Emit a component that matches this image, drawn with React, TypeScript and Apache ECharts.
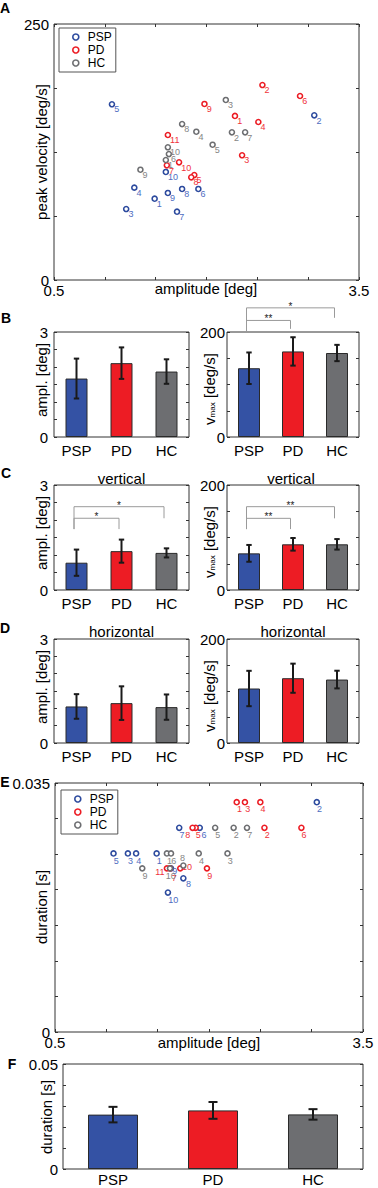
import React, { useEffect, useRef } from 'react';
import * as echarts from 'echarts';

const FONT = '"Liberation Sans", Arial, Helvetica, sans-serif';

const groups = ['PSP', 'PD', 'HC'];

// ---- Panel A: peak velocity [deg/s] vs amplitude [deg]
const aPspAmp = [1.49, 3.06, 1.21, 1.29, 1.07, 1.92, 1.71, 1.76, 1.62, 1.60];
const aPspVel = [79.4, 160.8, 69.3, 90.2, 171.6, 88.9, 66.7, 88.9, 85.0, 105.5];
const aPdAmp = [2.28, 2.55, 2.35, 2.51, 1.88, 2.92, 1.61, 1.85, 1.98, 1.73, 1.62];
const aPdVel = [160.2, 190.4, 121.8, 154.3, 102.5, 179.7, 112.0, 100.3, 171.9, 114.9, 141.6];
const aHcAmp = [1.60, 2.25, 2.19, 1.90, 2.06, 1.63, 2.38, 1.76, 1.35, 1.62];
const aHcVel = [117.2, 144.2, 175.8, 144.8, 132.1, 123.0, 144.2, 152.3, 107.7, 129.6];

// ---- Panel E: duration [s] vs amplitude [deg]
const ePspAmp = [1.49, 3.05, 1.21, 1.29, 1.07, 1.91, 1.71, 1.75, 1.63, 1.60];
const ePspDur = [0.0251, 0.0323, 0.0251, 0.0251, 0.0251, 0.0287, 0.0287, 0.0216, 0.0230, 0.0196];
const ePdAmp = [2.27, 2.54, 2.35, 2.50, 1.87, 2.90, 1.62, 1.84, 1.98, 1.72, 1.59];
const ePdDur = [0.0323, 0.0287, 0.0323, 0.0323, 0.0287, 0.0287, 0.0230, 0.0287, 0.0230, 0.0230, 0.0230];
const eHcAmp = [1.59, 2.24, 2.18, 1.90, 2.06, 1.63, 2.37, 1.75, 1.35, 1.62];
const eHcDur = [0.0251, 0.0287, 0.0251, 0.0251, 0.0287, 0.0251, 0.0287, 0.0234, 0.0230, 0.0230];

// ---- Bar panels (mean, sd) per group PSP, PD, HC
const bAmpMean = [1.67, 2.11, 1.87];
const bAmpSd = [0.57, 0.45, 0.35];
const bVelMean = [131, 163, 160];
const bVelSd = [30, 27, 15.5];
const cAmpMean = [0.78, 1.11, 1.06];
const cAmpSd = [0.375, 0.33, 0.13];
const cVelMean = [69.8, 87, 87];
const cVelSd = [16, 12, 10];
const dAmpMean = [1.054, 1.15, 1.035];
const dAmpSd = [0.355, 0.485, 0.365];
const dVelMean = [104.8, 124.6, 122];
const dVelSd = [34, 28, 17];
const fDurMean = [0.0259, 0.0279, 0.0260];
const fDurSd = [0.0037, 0.0040, 0.0025];

// ---- significance brackets (levels in data units)
const bVelSig = [
  { from: 'PSP', to: 'HC', level: 246, leftEnd: 201, rightEnd: 227, stars: '*' },
  { from: 'PSP', to: 'PD', level: 222, leftEnd: 201, rightEnd: 206, stars: '**' },
];
const cAmpSig = [
  { from: 'PSP', to: 'HC', level: 2.38, leftEnd: 1.74, rightEnd: 2.05, stars: '*' },
  { from: 'PSP', to: 'PD', level: 2.05, leftEnd: 1.74, rightEnd: 1.74, stars: '*' },
];
const cVelSig = [
  { from: 'PSP', to: 'HC', level: 158.7, leftEnd: 116, rightEnd: 136.5, stars: '**' },
  { from: 'PSP', to: 'PD', level: 136.5, leftEnd: 116, rightEnd: 116, stars: '**' },
];

// ---- label placement tweaks for crowded points in panel E (style only)
const eLabelTweaks: Record<string, { position: number[]; align?: string }> = {
  'PD-11': { position: [1, 2.5], align: 'right' },
  'HC-10': { position: [-1, 6] },
  'PSP-9': { position: [4.5, 1] },
  'PD-7': { position: [5, 8.5] },
  'HC-8': { position: [0, -8.5] },
  'PD-10': { position: [5, -3] },
  'PSP-8': { position: [6, 4] },
  'PD-8': { position: [1, 5.5], align: 'right' },
  'PSP-6': { position: [5, 5.5] },
};

const C_PSP = '#2c4a9e';
const C_PD = '#ec1c24';
const C_HC = '#6d6e71';
const L_PSP = '#4e6cbf';
const L_PD = '#f0323a';
const L_HC = '#858585';
const BAR = ['#3452a4', '#ed1c24', '#6d6e71'];
const AX = '#333';
const BRACKET_DX = -2.5;

const near = (a: number, b: number) => Math.abs(a - b) < 1e-9;

function buildOption() {
  const grid: any[] = [];
  const xAxis: any[] = [];
  const yAxis: any[] = [];
  const series: any[] = [];
  const graphic: any[] = [];
  const sigRefs: { xi: number; yi: number; sigs: any[] }[] = [];

  const tick = { show: true, inside: true, length: 3, lineStyle: { color: AX, width: 1 } };
  const noLine = { show: false, onZero: false };

  const addGrid = (left: number, top: number, width: number, height: number) => {
    grid.push({ left, top, width, height, show: true, borderColor: AX, borderWidth: 1, backgroundColor: 'transparent' });
    return grid.length - 1;
  };

  const yLabelFmt = (max: number, maxText: string) => (v: number) =>
    near(v, 0) ? '0' : near(v, max) ? maxText : '';

  const addScatter = (
    gi: number, yMax: number, yInt: number, yMaxText: string,
    sets: { name: string; xs: number[]; ys: number[]; c: string; lc: string }[],
    labelPos: number[], tweaks?: Record<string, any>,
  ) => {
    const xi = xAxis.length;
    xAxis.push({
      gridIndex: gi, type: 'value', min: 0.5, max: 3.5, interval: 0.5, position: 'bottom',
      axisLine: noLine, axisTick: tick, splitLine: { show: false },
      axisLabel: {
        fontFamily: FONT, fontSize: 15, color: '#000', margin: 3,
        formatter: (v: number) => (near(v, 0.5) ? '0.5' : near(v, 3.5) ? '3.5' : ''),
      },
    });
    xAxis.push({
      gridIndex: gi, type: 'value', min: 0.5, max: 3.5, interval: 0.5, position: 'top',
      axisLine: noLine, axisTick: tick, splitLine: { show: false }, axisLabel: { show: false },
    });
    const yi = yAxis.length;
    yAxis.push({
      gridIndex: gi, type: 'value', min: 0, max: yMax, interval: yInt, position: 'left',
      axisLine: noLine, axisTick: tick, splitLine: { show: false },
      axisLabel: { fontFamily: FONT, fontSize: 15, color: '#000', margin: 5, formatter: yLabelFmt(yMax, yMaxText) },
    });
    yAxis.push({
      gridIndex: gi, type: 'value', min: 0, max: yMax, interval: yInt, position: 'right',
      axisLine: noLine, axisTick: tick, splitLine: { show: false }, axisLabel: { show: false },
    });
    sets.forEach((s, k) => {
      series.push({
        type: 'scatter', name: s.name, xAxisIndex: xi, yAxisIndex: yi,
        data: s.xs.map((x, i) => {
          const tw = tweaks && tweaks[`${s.name}-${i + 1}`];
          return tw ? { value: [x, s.ys[i], i + 1], label: tw } : { value: [x, s.ys[i], i + 1] };
        }),
        symbol: 'circle', symbolSize: 5, z: 3 + k,
        itemStyle: { color: '#fff', borderColor: s.c, borderWidth: 1.6, opacity: 1 },
        label: {
          show: true, position: labelPos, align: 'left', verticalAlign: 'top',
          formatter: (p: any) => String(p.value[2]),
          fontFamily: FONT, fontSize: 9, color: s.lc,
        },
        labelLayout: { hideOverlap: false },
        emphasis: { disabled: true },
      });
    });
  };

  const addBars = (
    gi: number, yMax: number, yInt: number, yMaxText: string,
    means: number[], sds: number[], barWidth: number, cap: number, labelMargin: number, xMargin: number,
    sigs?: any[],
  ) => {
    const xi = xAxis.length;
    xAxis.push({
      gridIndex: gi, type: 'category', data: groups, position: 'bottom',
      axisLine: noLine, axisTick: { show: false }, splitLine: { show: false },
      axisLabel: { fontFamily: FONT, fontSize: 15, color: '#000', margin: xMargin },
    });
    const yi = yAxis.length;
    yAxis.push({
      gridIndex: gi, type: 'value', min: 0, max: yMax, interval: yInt, position: 'left',
      axisLine: noLine, axisTick: tick, splitLine: { show: false },
      axisLabel: { fontFamily: FONT, fontSize: 15, color: '#000', margin: labelMargin, formatter: yLabelFmt(yMax, yMaxText) },
    });
    yAxis.push({
      gridIndex: gi, type: 'value', min: 0, max: yMax, interval: yInt, position: 'right',
      axisLine: noLine, axisTick: tick, splitLine: { show: false }, axisLabel: { show: false },
    });
    series.push({
      type: 'bar', xAxisIndex: xi, yAxisIndex: yi, barWidth,
      data: means.map((m, i) => ({ value: m, itemStyle: { color: BAR[i] } })),
      itemStyle: { borderColor: '#2a2a2a', borderWidth: 1 },
      emphasis: { disabled: true }, z: 2,
    });
    series.push({
      type: 'custom', xAxisIndex: xi, yAxisIndex: yi, z: 10, silent: true,
      itemStyle: { color: '#1a1a1a' },
      data: means.map((m, i) => [i, m, sds[i]]),
      renderItem: (_p: any, api: any) => {
        const idx = api.value(0);
        const m = api.value(1);
        const s = api.value(2);
        const t = api.coord([idx, m + s]);
        const b = api.coord([idx, m - s]);
        const st = { stroke: '#1a1a1a', lineWidth: 2 };
        return {
          type: 'group',
          children: [
            { type: 'line', shape: { x1: t[0], y1: t[1], x2: b[0], y2: b[1] }, style: st },
            { type: 'line', shape: { x1: t[0] - cap, y1: t[1], x2: t[0] + cap, y2: t[1] }, style: st },
            { type: 'line', shape: { x1: b[0] - cap, y1: b[1], x2: b[0] + cap, y2: b[1] }, style: st },
          ],
        };
      },
    });
    if (sigs) {
      sigRefs.push({ xi, yi, sigs });
      series.push({
        type: 'custom', xAxisIndex: xi, yAxisIndex: yi, z: 9, silent: true, clip: false,
        itemStyle: { color: '#9a9a9a' },
        data: sigs.map((s) => [groups.indexOf(s.from), groups.indexOf(s.to), s.level, s.leftEnd, s.rightEnd]),
        renderItem: (_p: any, api: any) => {
          const a = api.coord([api.value(0), api.value(2)]);
          const b = api.coord([api.value(1), api.value(2)]);
          const ae = api.coord([api.value(0), api.value(3)]);
          const be = api.coord([api.value(1), api.value(4)]);
          const dx = BRACKET_DX;
          return {
            type: 'polyline',
            shape: { points: [[a[0] + dx, ae[1]], [a[0] + dx, a[1]], [b[0] + dx, b[1]], [b[0] + dx, be[1]]] },
            style: { stroke: '#9a9a9a', lineWidth: 1, fill: null },
          };
        },
      });
    }
  };

  // Grids
  const gA = addGrid(54, 24, 305, 256);
  const gBl = addGrid(54, 332, 135, 105);
  const gBr = addGrid(227, 332, 132, 105);
  const gCl = addGrid(54, 485, 135, 105);
  const gCr = addGrid(227, 485, 132, 105);
  const gDl = addGrid(54, 639, 135, 104);
  const gDr = addGrid(227, 639, 132, 104);
  const gE = addGrid(55, 783, 308, 249);
  const gF = addGrid(63, 1064, 300, 105);

  addScatter(gA, 250, 62.5, '250', [
    { name: 'PSP', xs: aPspAmp, ys: aPspVel, c: C_PSP, lc: L_PSP },
    { name: 'PD', xs: aPdAmp, ys: aPdVel, c: C_PD, lc: L_PD },
    { name: 'HC', xs: aHcAmp, ys: aHcVel, c: C_HC, lc: L_HC },
  ], [5.5, 4]);

  addBars(gBl, 3, 0.5, '3', bAmpMean, bAmpSd, 22, 2.7, 6, 6);
  addBars(gBr, 200, 50, '200', bVelMean, bVelSd, 22, 2.7, 2, 6, bVelSig);
  addBars(gCl, 3, 0.5, '3', cAmpMean, cAmpSd, 22, 2.7, 6, 6, cAmpSig);
  addBars(gCr, 200, 50, '200', cVelMean, cVelSd, 22, 2.7, 2, 6, cVelSig);
  addBars(gDl, 3, 0.5, '3', dAmpMean, dAmpSd, 22, 2.7, 6, 6);
  addBars(gDr, 200, 50, '200', dVelMean, dVelSd, 22, 2.7, 2, 6);

  addScatter(gE, 0.035, 0.005, '0.035', [
    { name: 'PSP', xs: ePspAmp, ys: ePspDur, c: C_PSP, lc: L_PSP },
    { name: 'PD', xs: ePdAmp, ys: ePdDur, c: C_PD, lc: L_PD },
    { name: 'HC', xs: eHcAmp, ys: eHcDur, c: C_HC, lc: L_HC },
  ], [3.5, 6], eLabelTweaks);

  addBars(gF, 0.05, 0.01, '0.05', fDurMean, fDurSd, 50, 4.5, 5, 3);

  // Texts
  const txt = (text: string, x: number, y: number, opts: any = {}) => ({
    type: 'text', x, y, rotation: opts.rot ? Math.PI / 2 : 0, silent: true,
    style: {
      text, fill: opts.fill || '#000', fontFamily: FONT, fontSize: opts.size || 15, fontWeight: opts.bold ? 'bold' : 'normal',
      align: 'center', verticalAlign: 'middle', rich: opts.rich,
    },
  });
  const letters: [string, number, number][] = [
    ['A', 5, 8], ['B', 6, 318], ['C', 6, 473], ['D', 5, 627.5], ['E', 5, 782], ['F', 12, 1064],
  ];
  letters.forEach(([t, x, y]) => graphic.push(txt(t, x, y, { bold: true, size: 14 })));

  graphic.push(txt('amplitude [deg]', 206, 288));
  graphic.push(txt('amplitude [deg]', 209, 1042));
  graphic.push(txt('peak velocity [deg/s]', 41.5, 152, { rot: true }));
  graphic.push(txt('duration [s]', 41, 907, { rot: true }));
  graphic.push(txt('duration [s]', 46, 1117, { rot: true }));
  graphic.push(txt('vertical', 121.5, 478));
  graphic.push(txt('vertical', 291, 478));
  graphic.push(txt('horizontal', 121.5, 631.5));
  graphic.push(txt('horizontal', 293, 631.5));

  const ampRows = [380, 533, 687];
  ampRows.forEach((y) => graphic.push(txt('ampl. [deg]', 41, y, { rot: true })));
  const vRows = [389, 542, 696];
  vRows.forEach((y) =>
    graphic.push(
      txt('{v|v}{s|max}{n| [deg/s]}', 209, y, {
        rot: true,
        rich: {
          v: { fontFamily: FONT, fontSize: 15, fill: '#000' },
          s: { fontFamily: FONT, fontSize: 8, fill: '#000', verticalAlign: 'bottom', lineHeight: 9 },
          n: { fontFamily: FONT, fontSize: 15, fill: '#000' },
        },
      }),
    ),
  );

  const legendBase = {
    orient: 'vertical', data: groups, icon: 'circle', itemWidth: 6, itemHeight: 6, itemGap: 1,
    borderColor: '#555', borderWidth: 1, backgroundColor: '#fff', selectedMode: false,
    textStyle: { fontFamily: FONT, fontSize: 12, color: '#000', padding: [0, 0, 0, 4] },
    itemStyle: { borderWidth: 1.6 },
  };
  const legend = [
    { ...legendBase, left: 59, top: 28, padding: [3, 4, 3, 13] },
    { ...legendBase, left: 61, top: 790, padding: [3, 4, 3, 13] },
  ];

  const option = {
    animation: false,
    backgroundColor: '#fff',
    textStyle: { fontFamily: FONT },
    grid, xAxis, yAxis, series, graphic, legend,
  };
  return { option, graphic, sigRefs, txt };
}

export default function App() {
  const ref = useRef<HTMLDivElement>(null);
  useEffect(() => {
    if (!ref.current) return;
    const chart = echarts.init(ref.current, undefined, { renderer: 'svg' });
    const { option, graphic, sigRefs, txt } = buildOption();
    chart.setOption(option as any);
    // significance stars, placed through the axes' own scales
    const stars: any[] = [];
    sigRefs.forEach(({ xi, yi, sigs }) => {
      sigs.forEach((s: any) => {
        const a = chart.convertToPixel({ xAxisIndex: xi, yAxisIndex: yi } as any, [groups.indexOf(s.from), s.level]) as any;
        const b = chart.convertToPixel({ xAxisIndex: xi, yAxisIndex: yi } as any, [groups.indexOf(s.to), s.level]) as any;
        if (a && b) stars.push(txt(s.stars, (a[0] + b[0]) / 2 + BRACKET_DX, a[1] - 1.5, { size: 10, fill: '#222' }));
      });
    });
    chart.setOption({ graphic: [...graphic, ...stars] } as any, { replaceMerge: ['graphic'] } as any);
    return () => chart.dispose();
  }, []);
  return <div ref={ref} style={{ position: 'absolute', left: 0, top: 0, width: 378, height: 1188 }} />;
}
